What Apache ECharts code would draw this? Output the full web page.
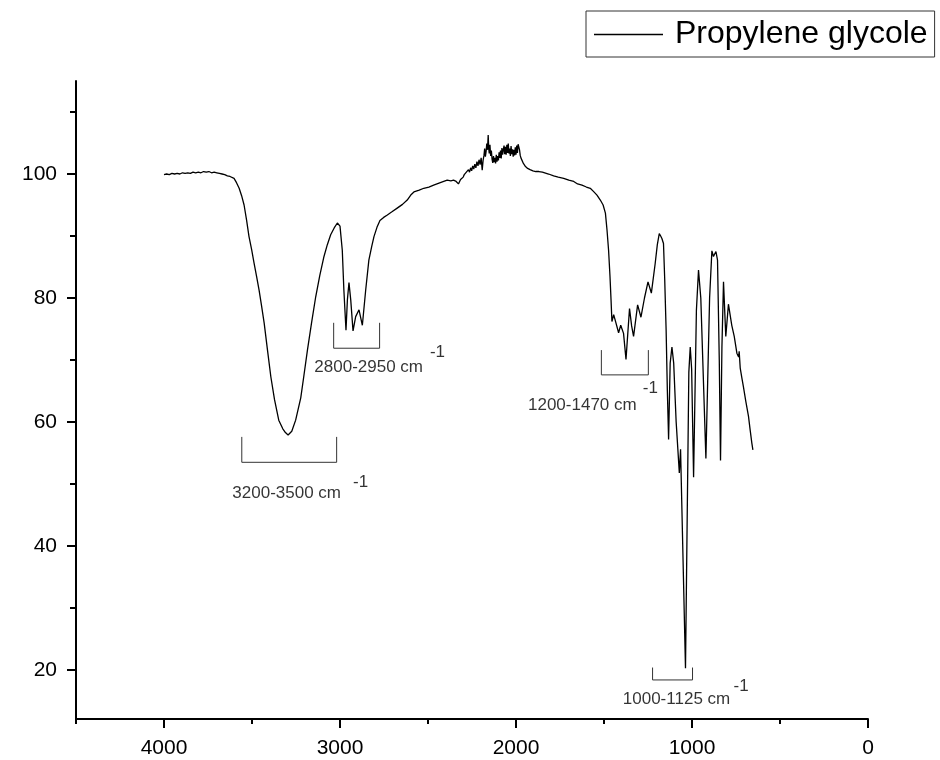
<!DOCTYPE html>
<html><head><meta charset="utf-8">
<script src="https://cdn.jsdelivr.net/npm/echarts@6/dist/echarts.min.js"></script>
<style>html,body{margin:0;padding:0;background:#fff}#c{width:940px;height:760px}</style>
</head><body><div id="c"></div>
<script>
// ---- data ----
const seriesName = 'Propylene glycole';
const wavenumbers = [
 4000,3985,3970,3955,3940,3925,3910,3895,3880,3865,3850,3835,3820,3805,3790,3775,3760,3745,3730,3715,3700,3685,3670,3655,3640,3625,
 3602,3588,3573,3559,3545,3531,3517,3502,3488,3474,3460,3445,3431,3412,3393,3372,3348,3325,3310,3295,3285,3274,3252,3223,3205,3185,
 3161,3138,3115,3091,3072,3053,3033,3015,3000,2987,2978,2966,2958,2949,2939,2926,2911,2892,2873,2854,2836,2820,2807,2790,2773,2752,
 2731,2705,2675,2645,2618,2598,2580,2550,2524,2495,2468,2430,2391,2370,2355,2340,2327,2315,2306,
 2300,2294,2288,2282,2276,2270,2264,2258,2252,2246,2240,2234,2228,2222,2216,2210,2204,2198,2192,2187,2182,2178,2174,2170,2166,2162,
 2158,2155,2152,2148,2144,2140,2136,2132,2128,2124,2120,2116,2112,2108,2104,2100,2096,2092,2088,2084,2080,2076,2072,2068,2064,2060,
 2056,2052,2048,2044,2040,2036,2032,2028,2024,2020,2016,2012,2008,2004,2000,1996,1992,1988,1984,1980,1976,1972,1968,1964,1958,1952,
 1946,1940,1934,1928,1920,1912,1904,1896,1888,1880,1870,1860,1850,1843,1815,1786,1760,1729,1700,1672,1650,1625,1600,1578,1560,1540,
 1521,1505,1492,1483,1474,1466,1460,1455,1445,1438,1430,1417,1405,1398,1389,1375,1355,1343,1332,1309,1290,1270,1250,1231,1209,1197,
 1186,1178,1171,1162,1155,1147,1140,1133,1124,1114,1104,1090,1072,1065,1037,1018,1010,1002,991,975,963,950,921,900,887,878,864,855,
 845,838,830,821,808,793,774,760,745,735,732,726,716,708,694,679,670,660,654
];
const transmittance = [
 99.9,100.0,99.9,100.1,100.0,100.1,100.0,100.2,100.1,100.2,100.1,100.3,100.2,100.3,100.2,100.4,100.3,100.4,100.2,100.3,100.2,100.1,100.0,99.9,99.7,99.6,
 99.3,98.6,97.7,96.5,95.0,92.6,89.9,87.8,85.6,83.5,81.3,78.6,76.0,71.6,67.3,63.6,60.3,58.9,58.3,57.9,58.1,58.5,60.3,63.9,67.5,71.6,
 76.1,80.2,83.6,86.7,88.6,90.2,91.3,92.1,91.6,87.7,81.3,74.8,79.7,82.5,79.7,74.7,77.0,78.1,75.6,81.3,86.1,88.3,89.9,91.4,92.5,93.0,
 93.4,93.9,94.5,95.1,95.8,96.6,97.1,97.4,97.7,97.9,98.2,98.6,99.0,98.9,99.0,98.8,98.4,99.1,99.4,
 99.5,99.9,99.6,100.3,100.0,100.7,100.3,101.0,100.5,101.3,100.8,101.6,101.0,102.0,101.3,102.3,101.5,102.6,100.6,102.2,103.0,104.1,102.8,103.6,104.9,103.9,
 106.3,104.2,103.3,104.7,102.9,103.8,102.4,101.8,102.9,101.9,102.6,101.7,103.1,102.0,102.9,102.2,103.5,102.6,103.8,102.5,104.2,103.1,103.9,104.6,103.2,104.4,
 103.1,104.7,103.4,104.9,103.3,104.1,102.9,104.5,103.2,104.0,102.8,103.9,103.0,104.3,103.1,104.6,103.4,104.8,105.0,103.9,103.0,102.6,102.9,102.3,101.7,102.0,
 101.2,101.5,100.9,101.2,100.7,101.0,100.5,100.8,100.4,100.7,100.4,100.6,100.3,100.4,100.0,99.7,99.5,99.3,99.0,98.8,98.4,98.2,97.9,97.7,97.2,96.6,
 95.8,95.0,93.7,91.0,87.7,83.5,79.7,76.2,77.3,76.6,76.5,74.4,75.6,75.4,74.3,70.1,78.3,75.5,73.8,78.9,76.9,80.0,82.6,80.8,85.6,88.6,
 90.4,90.0,89.6,88.8,83.0,74.8,65.0,57.2,69.5,72.1,69.5,60.0,51.8,55.6,20.3,68.0,72.1,68.5,51.1,78.0,84.5,80.0,54.1,80.0,87.6,86.7,87.5,86.1,
 70.0,53.8,72.0,82.6,73.8,79.0,75.6,73.8,71.1,70.5,71.4,68.7,67.0,65.7,63.3,60.9,58.8,56.6,55.5
];
const xMajorTicks = [0, 1000, 2000, 3000, 4000];
const xMinorTicks = [500, 1500, 2500, 3500, 4500];
const yMajorTicks = [20, 40, 60, 80, 100];
const yMinorTicks = [30, 50, 70, 90, 110];
const bandLabels = ['3200-3500 cm', '2800-2950 cm', '1200-1470 cm', '1000-1125 cm'];
const superscript = '-1';
// annotation anchors in data units: [high wavenumber, low wavenumber, top, bottom]
const bandBrackets = [[3558, 3019, 57.6, 53.5], [3036, 2775, 76.0, 71.9], [1515, 1248, 71.6, 67.6], [1224, 997, 20.4, 18.4]];
const bandLabelAt = [[3303, 48.5], [2837, 68.9], [1623, 62.7], [1088, 15.3]];
const superscriptAt = [[2883, 50.3], [2446, 71.3], [1237, 65.5], [721, 17.3]];

// ---- chart ----
const FONT = 'Liberation Sans, Arial, sans-serif';
const spectrum = wavenumbers.map((w, i) => [w, transmittance[i]]);
const series = [{
  name: seriesName, type: 'line', data: spectrum, symbol: 'none', silent: true,
  lineStyle: { color: '#000', width: 1.3 }, itemStyle: { color: '#000' }, z: 3
}];
bandBrackets.forEach(b => {
  series.push({
    type: 'line', silent: true, symbol: 'none', z: 2,
    data: [[b[0], b[2]], [b[0], b[3]], [b[1], b[3]], [b[1], b[2]]],
    lineStyle: { color: '#333', width: 1 }
  });
});
const textLabel = {
  show: true, position: 'inside', formatter: p => p.data[2], color: '#000',
  textBorderWidth: 0, textBorderColor: 'transparent', fontSize: 17, fontFamily: FONT
};
series.push({
  type: 'scatter', silent: true, symbolSize: 0, itemStyle: { color: '#000' },
  data: bandLabelAt.map((p, i) => [p[0], p[1], bandLabels[i]]), label: textLabel
});
series.push({
  type: 'scatter', silent: true, symbolSize: 0, itemStyle: { color: '#000' },
  data: superscriptAt.map(p => [p[0], p[1], superscript]), label: textLabel
});

const gridBox = { left: 76, right: 72, top: 81, bottom: 41, containLabel: false };
const axX = { type: 'value', inverse: true, min: 0, max: 4500, position: 'bottom', splitLine: { show: false } };
const axY = { type: 'value', min: 12.1, max: 115, position: 'left', splitLine: { show: false } };
const tickStyle = { color: '#000', width: 2 };
const option = {
  animation: false,
  backgroundColor: '#fff',
  grid: [Object.assign({}, gridBox), Object.assign({}, gridBox)],
  legend: {
    data: [{ name: seriesName, icon: 'rect' }], left: 586, top: 11, orient: 'horizontal',
    padding: [6, 7, 5, 8], itemWidth: 69, itemHeight: 1.6,
    borderColor: '#333', borderWidth: 1, selectedMode: false,
    itemStyle: { color: '#000', opacity: 1, borderWidth: 0 },
    textStyle: { fontSize: 32, fontFamily: FONT, color: '#000', padding: [0, 0, 0, 7], lineHeight: 35 }
  },
  xAxis: [
    Object.assign({}, axX, {
      gridIndex: 0,
      axisLine: { show: true, onZero: false, lineStyle: { color: '#000', width: 2 } },
      axisTick: { show: true, length: 9, lineStyle: tickStyle, customValues: xMajorTicks },
      axisLabel: { show: true, customValues: xMajorTicks, formatter: v => String(v), margin: 19, fontSize: 21, color: '#000', fontFamily: FONT }
    }),
    Object.assign({}, axX, {
      gridIndex: 1,
      axisLine: { show: false, onZero: false },
      axisTick: { show: true, length: 5, lineStyle: tickStyle, customValues: xMinorTicks },
      axisLabel: { show: false }
    })
  ],
  yAxis: [
    Object.assign({}, axY, {
      gridIndex: 0,
      axisLine: { show: true, onZero: false, lineStyle: { color: '#000', width: 2 } },
      axisTick: { show: true, length: 9, lineStyle: tickStyle, customValues: yMajorTicks },
      axisLabel: { show: true, customValues: yMajorTicks, formatter: v => String(v), margin: 19, fontSize: 21, color: '#000', fontFamily: FONT }
    }),
    Object.assign({}, axY, {
      gridIndex: 1,
      axisLine: { show: false, onZero: false },
      axisTick: { show: true, length: 6, lineStyle: tickStyle, customValues: yMinorTicks },
      axisLabel: { show: false }
    })
  ],
  series: series
};
const chart = echarts.init(document.getElementById('c'), null, { renderer: 'canvas' });
chart.setOption(option);
</script></body></html>
